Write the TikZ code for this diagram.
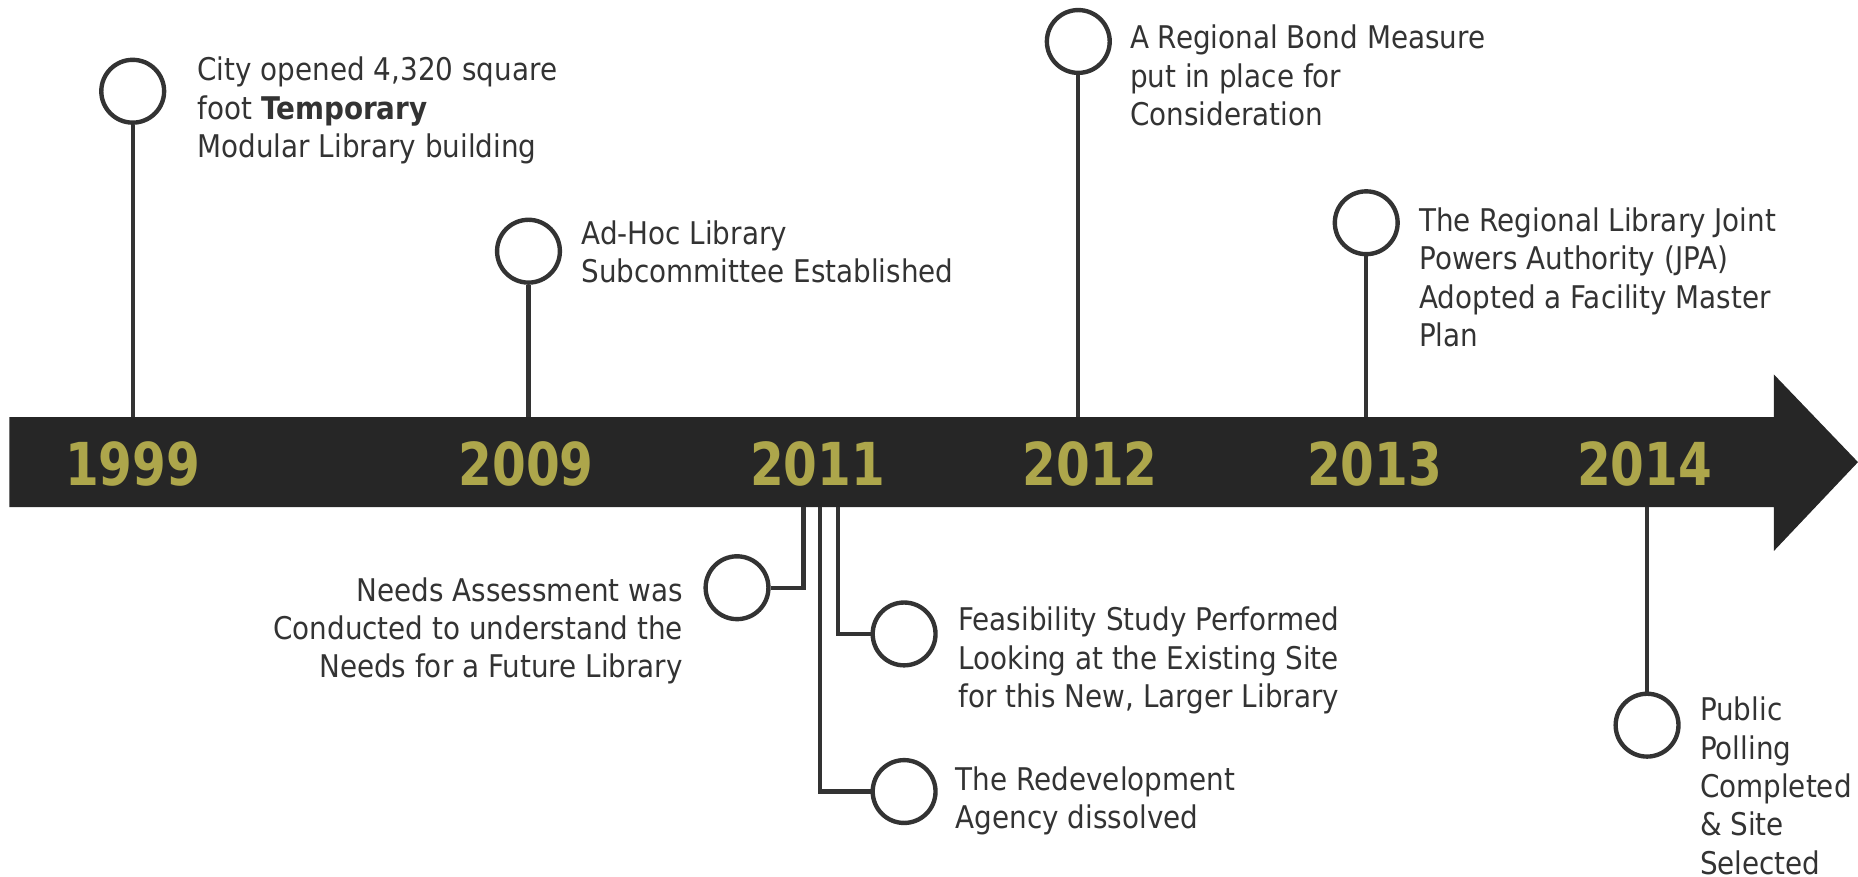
\documentclass[tikz,border=0pt]{standalone}
\usepackage{fontspec}
\setmainfont[FakeStretch=0.89]{DejaVu Sans}
\newfontfamily\yearfont[FakeStretch=0.82]{DejaVu Sans}
\definecolor{barcol}{HTML}{262626}
\definecolor{yearcol}{HTML}{ADA64B}
\definecolor{inkcol}{HTML}{333333}
\tikzset{
  ring/.style={circle, draw=inkcol, line width=1.05pt, fill=white, minimum size=0.53cm, inner sep=0pt},
  stemline/.style={draw=inkcol, line width=1.05pt},
  evtext/.style={inner sep=0pt, text=inkcol, align=left, anchor=north west, font=\fontsize{7.5}{9.2}\selectfont},
  yearlbl/.style={inner sep=0pt, text=yearcol, font=\yearfont\bfseries\fontsize{14.2}{14.2}\selectfont}
}
\begin{document}
\begin{tikzpicture}[x=0.01cm, y=-0.01cm]
\useasboundingbox (0,0) rectangle (1568,740);
% timeline bar
\fill[barcol] (8,352) -- (1497,352) -- (1497,316) -- (1568,390) -- (1497,465) -- (1497,428) -- (8,428) -- cycle;
\coordinate (bartop) at (0,352);
\coordinate (barbot) at (0,428);

\node[yearlbl] (y1999) at (112,391.5) {1999};
\node[yearlbl] (y2009) at (444,391.5) {2009};
\node[yearlbl] (y2011) at (690,391.5) {2011};
\node[yearlbl] (y2012) at (920,391.5) {2012};
\node[yearlbl] (y2013) at (1160,391.5) {2013};
\node[yearlbl] (y2014) at (1388,391.5) {2014};

% above the bar
\node[ring] (c1999) at (112,77) {};
\node[evtext] (t1999) at (166,47.5) {City opened 4,320 square\\foot \textbf{Temporary}\\Modular Library building};
\draw[stemline] (c1999) -- (c1999 |- bartop);

\node[ring] (c2009) at (446,212) {};
\node[evtext] (t2009) at (490,185.5) {Ad-Hoc Library\\Subcommittee Established};
\draw[stemline] (c2009) -- (c2009 |- bartop);

\node[ring] (c2012) at (910,35) {};
\node[evtext] (t2012) at (953,20.5) {A Regional Bond Measure\\put in place for\\Consideration};
\draw[stemline] (c2012) -- (c2012 |- bartop);

\node[ring] (c2013) at (1153,188) {};
\node[evtext] (t2013) at (1197,174.5) {The Regional Library Joint\\Powers Authority (JPA)\\Adopted a Facility Master\\Plan};
\draw[stemline] (c2013) -- (c2013 |- bartop);

% below the bar
\coordinate (s1) at (678,428);
\coordinate (s2) at (692,428);
\coordinate (s3) at (707,428);

\node[ring] (cneeds) at (622,496) {};
\node[evtext, align=right, anchor=north east] (tneeds) at (577,486.5) {Needs Assessment was\\Conducted to understand the\\Needs for a Future Library};
\draw[stemline] (s1) |- (cneeds);

\node[ring] (cfeas) at (763,535) {};
\node[evtext] (tfeas) at (808,511.5) {Feasibility Study Performed\\Looking at the Existing Site\\for this New, Larger Library};
\draw[stemline] (s3) |- (cfeas);

\node[ring] (credev) at (763,668) {};
\node[evtext] (tredev) at (806,646.5) {The Redevelopment\\Agency dissolved};
\draw[stemline] (s2) |- (credev);

\node[ring] (c2014) at (1390,612) {};
\node[evtext] (t2014) at (1434,587.5) {Public\\Polling\\Completed\\\& Site\\Selected};
\draw[stemline] (c2014) -- (c2014 |- barbot);
\end{tikzpicture}
\end{document}
